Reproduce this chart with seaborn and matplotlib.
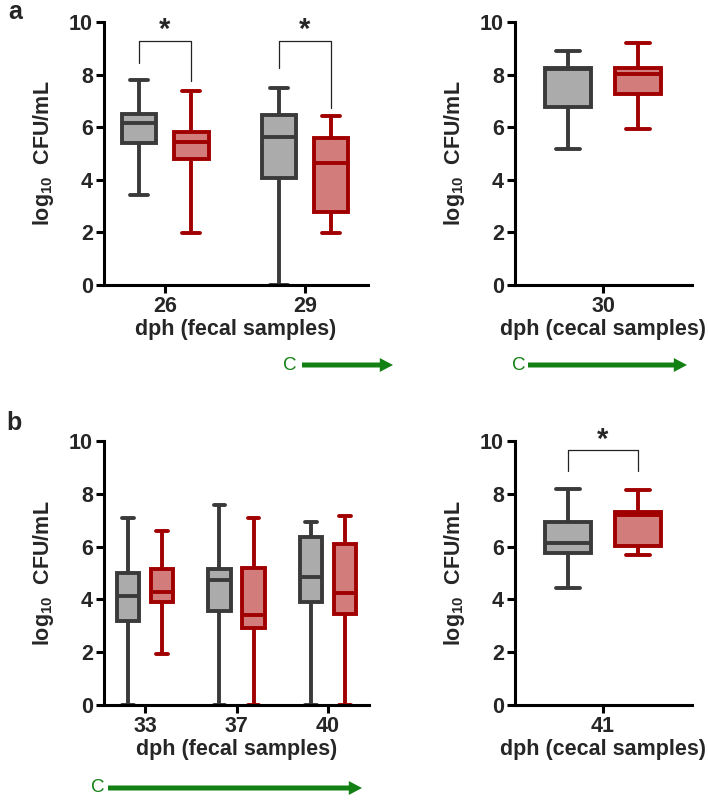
import pandas as pd
import numpy as np
import seaborn as sns
import matplotlib.pyplot as plt
from matplotlib.patches import FancyArrowPatch

# five-number summaries (min, Q1, median, Q3, max)
groups = ['ctrl', 'trt']
fecal_a_days = ['26', '29']
fecal_a_ctrl = [[3.42, 5.39, 6.15, 6.50, 7.80], [0.0, 4.06, 5.64, 6.46, 7.48]]
fecal_a_trt = [[1.99, 4.79, 5.45, 5.83, 7.39], [1.99, 2.79, 4.63, 5.58, 6.43]]
cecal_a_days = ['30']
cecal_a_ctrl = [[5.17, 6.76, 8.20, 8.24, 8.90]]
cecal_a_trt = [[5.93, 7.26, 8.03, 8.24, 9.19]]
fecal_b_days = ['33', '37', '40']
fecal_b_ctrl = [[0.0, 3.19, 4.13, 4.99, 7.07], [0.0, 3.57, 4.73, 5.14, 7.58], [0.0, 3.91, 4.84, 6.38, 6.94]]
fecal_b_trt = [[1.93, 3.91, 4.27, 5.14, 6.60], [0.0, 2.90, 3.41, 5.18, 7.10], [0.0, 3.45, 4.26, 6.10, 7.16]]
cecal_b_days = ['41']
cecal_b_ctrl = [[4.42, 5.74, 6.12, 6.94, 8.17]]
cecal_b_trt = [[5.68, 6.04, 7.20, 7.32, 8.14]]

fill_colors = {'ctrl': '#ababab', 'trt': '#d27c7c'}
edge_colors = {'ctrl': '#3a3a3a', 'trt': '#a10000'}
green = '#138013'
FS = 15.5

sns.set_theme(style='white')
plt.rcParams['font.family'] = ['Liberation Sans', 'DejaVu Sans']
plt.rcParams['font.weight'] = 'bold'
plt.rcParams['mathtext.fontset'] = 'custom'
plt.rcParams['mathtext.rm'] = 'Liberation Sans:bold'
plt.rcParams['mathtext.bf'] = 'Liberation Sans:bold'

W, H = 708, 801
fig = plt.figure(figsize=(W / 100, H / 100), dpi=100)


def px_axes(x0, y0, x1, y1):
    return fig.add_axes([x0 / W, 1 - y1 / H, (x1 - x0) / W, (y1 - y0) / H])


def make_df(days, ctrl, trt):
    rows = []
    for d, c, t in zip(days, ctrl, trt):
        for v in c:
            rows.append((d, 'ctrl', v))
        for v in t:
            rows.append((d, 'trt', v))
    return pd.DataFrame(rows, columns=['day', 'group', 'value'])


def draw_panel(ax, days, ctrl, trt, xlabel, xlim):
    df = make_df(days, ctrl, trt)
    for g in groups:
        sns.boxplot(data=df[df['group'] == g], x='day', y='value', hue='group',
                    order=days, hue_order=groups, palette=fill_colors, saturation=1,
                    dodge=True, width=0.744, gap=0.33, whis=(0, 100),
                    linecolor=edge_colors[g], linewidth=2.8, legend=False, ax=ax)
    ax.set_ylim(0, 10)
    ax.set_yticks([0, 2, 4, 6, 8, 10])
    ax.set_xlim(*xlim)
    ax.set_xlabel(xlabel, fontsize=FS, fontweight='bold', labelpad=1)
    ax.set_ylabel(r'log$_{10}$  CFU/mL', fontsize=FS, fontweight='bold', labelpad=9)
    for s in ['top', 'right']:
        ax.spines[s].set_visible(False)
    for s in ['left', 'bottom']:
        ax.spines[s].set_linewidth(2.2)
        ax.spines[s].set_color('black')
    ax.tick_params(axis='both', direction='out', length=6, width=2.2, color='black',
                   labelsize=FS, left=True, bottom=True, pad=2)
    for lab in ax.get_xticklabels() + ax.get_yticklabels():
        lab.set_fontweight('bold')


def bracket(ax, xc, top, left_end, right_end, star_y):
    x0, x1 = xc - 0.186, xc + 0.186
    ax.plot([x0, x0, x1, x1], [left_end, top, top, right_end], color='#222222',
            lw=0.9, clip_on=False)
    ax.text(xc, star_y, '*', ha='center', va='center', fontsize=21,
            fontweight='bold', clip_on=False)


def arrow(cx, x0, x1, y):
    fig.text(cx / W, 1 - y / H, 'C', color=green, fontsize=13.5, fontweight='normal',
             ha='center', va='center')
    fig.add_artist(FancyArrowPatch((x0 / W, 1 - y / H), (x1 / W, 1 - y / H),
                                   transform=fig.transFigure, mutation_scale=1,
                                   arrowstyle='simple,tail_width=3.6,head_width=10,head_length=9.5',
                                   color=green, lw=0, shrinkA=0, shrinkB=0))


ax1 = px_axes(104, 22, 368, 285)
draw_panel(ax1, fecal_a_days, fecal_a_ctrl, fecal_a_trt, 'dph (fecal samples)', (-0.436, 1.45))
bracket(ax1, 0, 9.29, 8.43, 7.76, 9.7)
bracket(ax1, 1, 9.29, 8.24, 6.72, 9.7)

ax2 = px_axes(515, 22, 692, 285)
draw_panel(ax2, cecal_a_days, cecal_a_ctrl, cecal_a_trt, 'dph (cecal samples)', (-0.468, 0.473))

ax3 = px_axes(104, 441, 369, 705)
draw_panel(ax3, fecal_b_days, fecal_b_ctrl, fecal_b_trt, 'dph (fecal samples)', (-0.448, 2.448))

ax4 = px_axes(515, 441, 692, 705)
draw_panel(ax4, cecal_b_days, cecal_b_ctrl, cecal_b_trt, 'dph (cecal samples)', (-0.468, 0.473))
bracket(ax4, 0, 9.66, 8.88, 8.88, 10.05)

fig.text(8 / W, 1 - 12 / H, 'a', fontsize=18, fontweight='bold', ha='left', va='center')
fig.text(6 / W, 1 - 423 / H, 'b', fontsize=18, fontweight='bold', ha='left', va='center')

arrow(290, 302, 393, 365)
arrow(519, 528, 687, 365)
arrow(98, 108, 362, 788)

fig.savefig('out.png', dpi=100)
